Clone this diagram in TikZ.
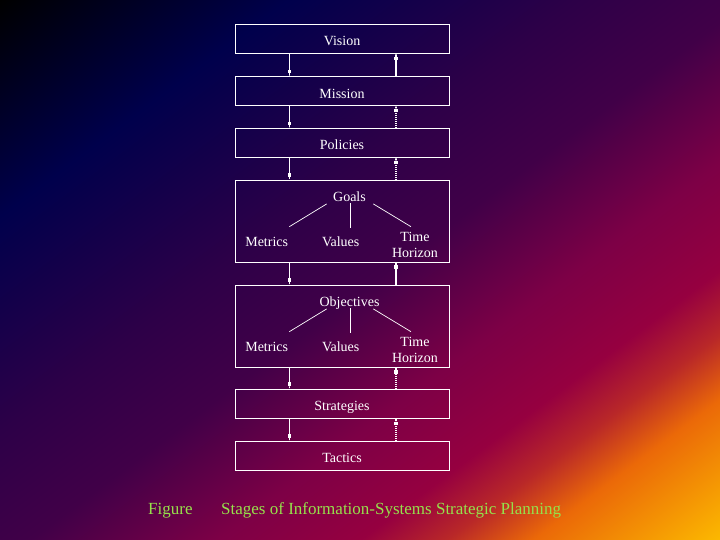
\documentclass[tikz,border=0pt]{standalone}
\usepackage{fontspec}
\setmainfont{Liberation Serif}
\usetikzlibrary{arrows.meta,positioning}
\definecolor{bgnavy}{RGB}{0,0,76}
\definecolor{bgviolet}{RGB}{45,0,72}
\definecolor{bgplum}{RGB}{65,0,72}
\definecolor{bgwine}{RGB}{125,0,70}
\definecolor{bgcrimson}{RGB}{150,0,64}
\definecolor{bgrust}{RGB}{185,40,40}
\definecolor{bgorange}{RGB}{235,105,8}
\definecolor{bggold}{RGB}{252,185,0}
\definecolor{captiongreen}{RGB}{150,225,75}
\pgfdeclarehorizontalshading{slidebg}{100bp}{color(0bp)=(black); color(25bp)=(black);
  color(35bp)=(bgnavy); color(45bp)=(bgviolet); color(51bp)=(bgplum);
  color(57.5bp)=(bgwine); color(62.5bp)=(bgcrimson); color(65.5bp)=(bgrust);
  color(68.5bp)=(bgorange); color(75bp)=(bggold); color(100bp)=(bggold)}
\begin{document}
\begin{tikzpicture}[x=1pt,y=-1pt,
    stage/.style={draw=white, line width=0.8pt, minimum width=214pt, minimum height=29pt,
      text=white, font=\fontsize{14}{16}\selectfont, text height=14pt, text depth=0pt},
    note/.style={text=white, font=\fontsize{14}{16}\selectfont, inner sep=0pt, align=center},
    spoke/.style={draw=white, line width=0.7pt},
    flow/.style={draw=white, line width=1.2pt,
      -{Rectangle[length=3.4pt,width=3.2pt,sep=0pt] Rectangle[length=3pt,width=1.2pt,sep=0pt]}},
    faint/.style={dash pattern=on 1pt off 1pt},
    caption/.style={text=captiongreen, font=\fontsize{17}{20}\selectfont, inner sep=0pt}]
  \useasboundingbox (0,0) rectangle (720,540);
  % diagonal backdrop, stretched corner to corner
  \begin{scope}
    \clip (0,0) rectangle (720,540);
    \begin{scope}[x=1pt,y=1pt,transform canvas={cm={7.2,-5.4,7.2,5.4,(0,0)}}]
      \shade[shading=slidebg] (0,-60) rectangle (100,60);
    \end{scope}
  \end{scope}
  % plain stages
  \node[stage] (vision) at (342,38.8) {Vision};
  \node[stage] (mission) at (342,91.2) {Mission};
  \node[stage] (policies) at (342,143) {Policies};
  \node[stage] (strategies) at (342,403.7) {Strategies};
  \node[stage] (tactics) at (342,455.5) {Tactics};
  % stages split into metrics, values and time horizon
  \foreach \nm/\ttl/\ytop in {goals/Goals/180,objectives/Objectives/285} {
    \node[stage, minimum height=82pt] (\nm) at (342,{\ytop+41}) {};
    \node[note, anchor=base] (\nm title) at (349.5,{\ytop+21.7}) {\ttl};
    \node[note, anchor=base] (\nm metrics) at (266.7,{\ytop+66.7}) {Metrics};
    \node[note, anchor=base] (\nm values) at (340.7,{\ytop+66.7}) {Values};
    \node[note, anchor=base] (\nm horizon) at (415,{\ytop+77.7}) {Time\\Horizon};
    \draw[spoke] ([xshift=-22.8pt,yshift=-2.2pt]\nm title.base) -- ([xshift=22.6pt,yshift=20pt]\nm metrics.base);
    \draw[spoke] ([xshift=1.2pt,yshift=-1.6pt]\nm title.base) -- ([xshift=10pt,yshift=19pt]\nm values.base);
    \draw[spoke] ([xshift=23.8pt,yshift=-2.2pt]\nm title.base) -- ([xshift=-4pt,yshift=31pt]\nm horizon.base);
  }
  % links down the left side, feedback up the right side
  \coordinate (downlane) at (289.5,0);
  \coordinate (uplane) at (396,0);
  \foreach \a/\b/\ret in {vision/mission/solid, mission/policies/faint, policies/goals/faint,
      goals/objectives/solid, objectives/strategies/faint, strategies/tactics/faint} {
    \draw[flow] (\a.south -| downlane) -- (\b.north -| downlane);
    \draw[flow,\ret] (\b.north -| uplane) -- (\a.south -| uplane);
  }
  \node[caption, anchor=base west] (figtag) at (148,514) {Figure};
  \node[caption, anchor=base west] (figtitle) at (221,514) {Stages of Information-Systems Strategic Planning};
\end{tikzpicture}
\end{document}
